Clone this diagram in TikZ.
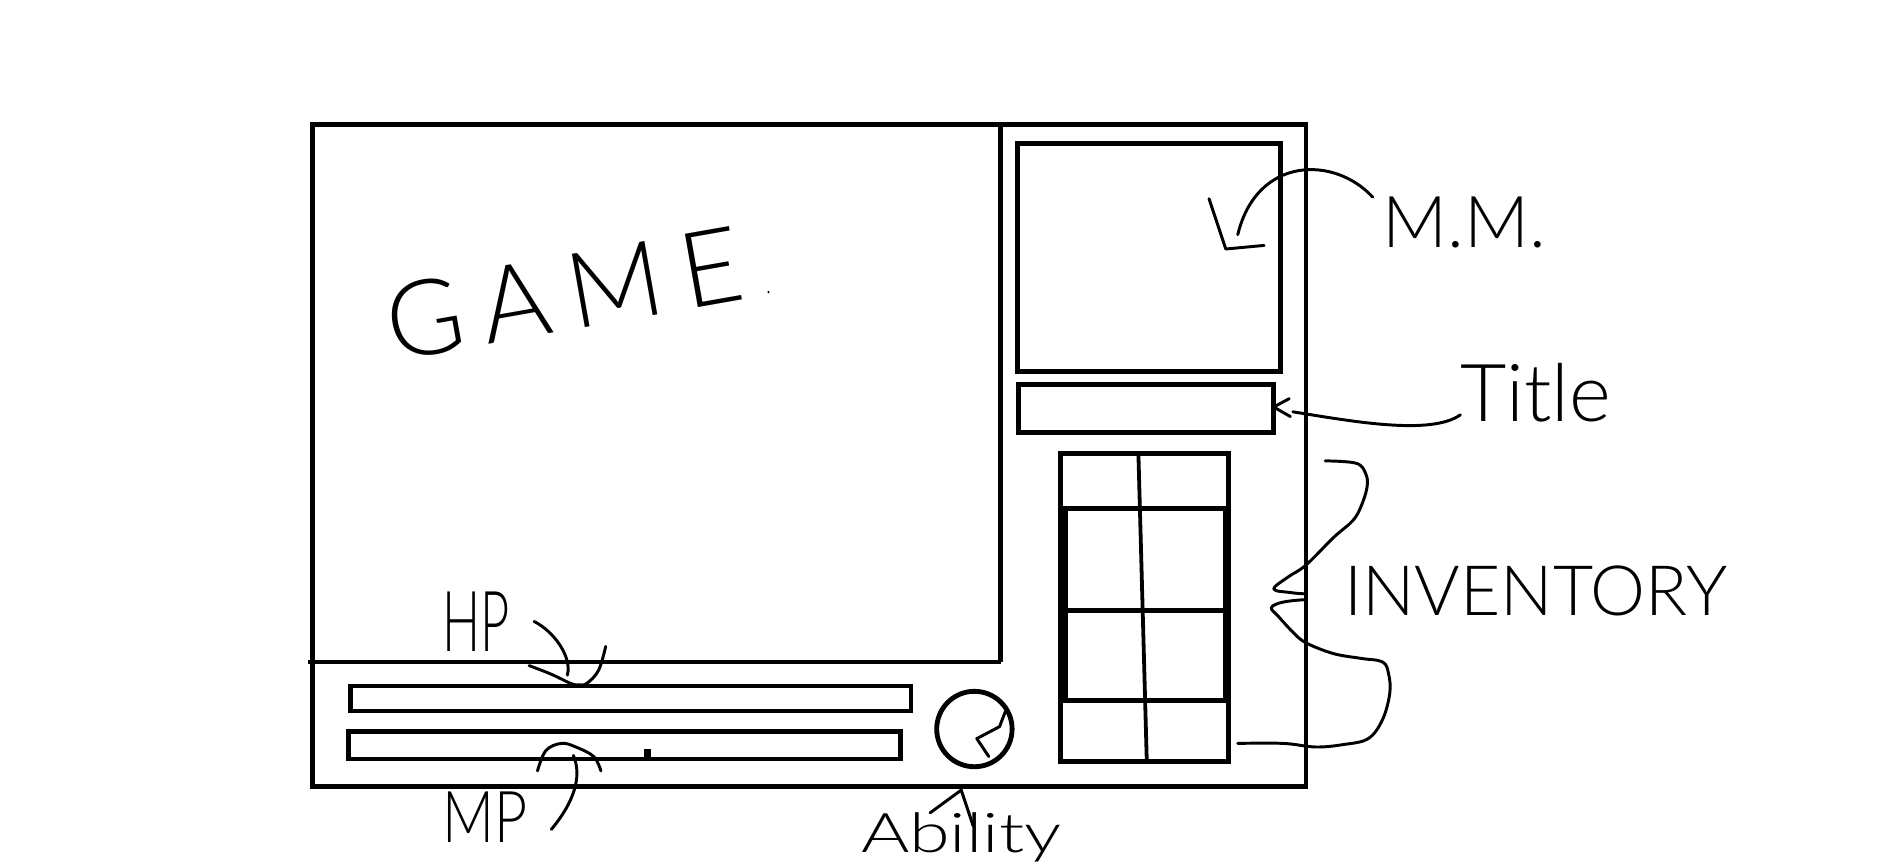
\documentclass[tikz,border=0pt]{standalone}
\usepackage{fontspec}
\newfontfamily\hand{Lato Light}
\begin{document}
\begin{tikzpicture}[x=0.01cm,y=-0.01cm,
  box/.style={draw=black, line width=1.15pt, line join=miter},
  ink/.style={draw=black, line width=0.7pt, line cap=round, line join=round},
  lbl/.style={inner sep=0pt, outer sep=0pt, text=black}]
\useasboundingbox (0,0) rectangle (1568,723);
\fill[white] (0,0) rectangle (1568,723);

% outer frame and game area
\draw[box] (261,104) rectangle (1091,657);
\draw[box] (836,104) -- (836,553);
\draw[box] (257,553) -- (836,553);

% right panel
\draw[box] (850,120) rectangle (1070,310);
\draw[box] (851,321) rectangle (1064,361);
\draw[box] (886,379) rectangle (1026,636);
\draw[box] (890,425) rectangle (1024,585);
\draw[box] (890,510) -- (1024,510);
\draw[line width=0.9pt] (951,379) -- (958,636);

% bars
\draw[box] (293,573) rectangle (761,594);
\draw[box] (291,611) rectangle (752,634);
\fill (538,626) rectangle (544,633);
\fill (642,244) circle (1);

% ability circle
\draw[box] (814,609) ellipse (31.5 and 31.5);
\draw[ink] (840,594) -- (835,607) -- (816,617) -- (826,632);

% labels
\node[lbl, rotate=10, font=\hand\fontsize{25}{25}\selectfont\addfontfeature{LetterSpace=18}] (game) at (471,245) {GAME};
\node[lbl, anchor=base, font=\hand\fontsize{17}{17}\selectfont] (mm) at (1223,207) {M.M.};
\node[lbl, anchor=base, font=\hand\fontsize{19}{19}\selectfont] (tt) at (1283,352) {Title};
\node[lbl, anchor=base, font=\hand\fontsize{16.5}{16.5}\selectfont] (inv) at (1283,514) {INVENTORY};
\node[lbl, anchor=base, xscale=0.6, font=\hand\fontsize{20}{20}\selectfont] (hp) at (398,544) {HP};
\node[lbl, anchor=base, xscale=0.8, font=\hand\fontsize{17}{17}\selectfont] (mp) at (405,704) {MP};
\node[lbl, anchor=base, xscale=1.35, font=\hand\fontsize{13}{13}\selectfont] (ab) at (803,712) {Ability};

% target coordinates
\coordinate (mmend) at (1034,196);
\coordinate (mmtip) at (1024,208);
\coordinate (tttip) at (1064,340);
\coordinate (hpend) at (474,564);
\coordinate (mpend) at (479,631);
\coordinate (abtip) at (803,660);

% M.M. connector
\draw[ink] ([xshift=-0.08cm]mm.north west) .. controls (1115,130) and (1050,130) .. (mmend);
\draw[ink] (1010,166) -- (mmtip) -- (1056,205);

% Title connector
\draw[ink] ([yshift=0.06cm]tt.south west) .. controls (1195,364) and (1130,352) .. (1080,344);
\draw[ink] (1077,333) -- (tttip) -- (1078,348);

% Inventory brace
\draw[ink] plot[smooth, tension=0.6] coordinates {(1107,385) (1133,387) (1141,396) (1142,407) (1137,423) (1130,435) (1114,449) (1091,472) (1076,482) (1064,492) (1078,495) (1089,496)};
\draw[ink] plot[smooth, tension=0.6] coordinates {(1089,501) (1078,502) (1068,504) (1062,508) (1068,515) (1080,528) (1091,537) (1114,546) (1137,550) (1155,553) (1160,563) (1161,579) (1155,601) (1143,617) (1122,622) (1099,624) (1072,621) (1034,621)};

% HP connector
\draw[ink] ([xshift=0.2cm]hp.east) .. controls (462,527) and (478,548) .. (hpend);
\draw[ink] plot[smooth, tension=0.6] coordinates {(442,556) (460,563) (477,571) (483,572) (490,571) (500,560) (506,540)};

% MP connector
\draw[ink] ([xshift=0.2cm, yshift=-0.1cm]mp.east) .. controls (478,672) and (487,650) .. (mpend);
\draw[ink] plot[smooth, tension=0.6] coordinates {(449,644) (456,627) (469,621) (481,624) (496,632) (502,644)};

% Ability connector
\draw[ink] (777,679) -- (abtip) -- (813,690);
\end{tikzpicture}
\end{document}
